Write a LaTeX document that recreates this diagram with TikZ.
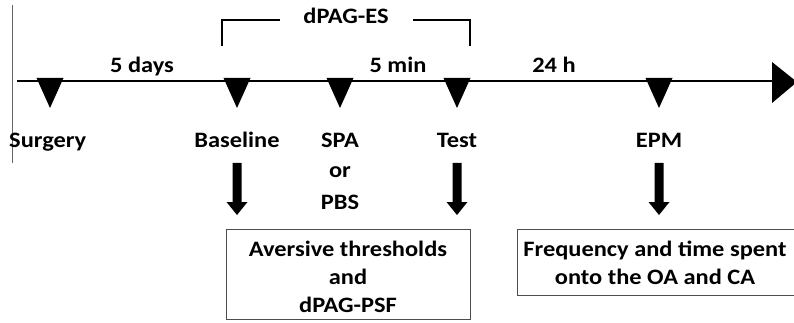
\documentclass[tikz,border=0pt]{standalone}
\usepackage{fontspec}
\setmainfont{Carlito}[FakeStretch=1.11]
\begin{document}
\begin{tikzpicture}[x=1pt,y=-1pt,
  lbl/.style={font=\bfseries\fontsize{22}{22}\selectfont, inner sep=0pt, anchor=base},
  marker/.style={fill=black},
  blockarrow/.style={fill=black},
  infobox/.style={draw=black!70, line width=0.8pt}]
\useasboundingbox (0,0) rectangle (794,323);
% left vertical line
\draw[black!60, line width=0.8pt] (12,5) -- (12,163);
% timeline
\coordinate (tstart) at (17,81);
\coordinate (tend) at (772,81);
\draw[line width=1.8pt] (tstart) -- (tend);
\fill (772,62) -- (797,82) -- (772,103) -- cycle;
% markers
\foreach \n/\x in {surg/50, base/237, spa/340, test/457, epm/659}{
  \coordinate (\n) at (\x,81);
  \fill[marker] (\x-13.5,78) -- (\x+13.5,78) -- (\x,108) -- cycle;
}
% upper labels
\node[lbl] (days) at (142,73) {5 days};
\node[lbl] (min) at (398,73) {5 min};
\node[lbl] (hrs) at (554,73) {24 h};
% bracket
\node[lbl] (es) at (346,24) {dPAG-ES};
\draw[line width=1.1pt] (222,46) -- (222,20) -- (280,20);
\draw[line width=1.1pt] (413,20) -- (470,20) -- (470,46);
% lower labels
\node[lbl, anchor=base west] (surgery) at (9,148) {Surgery};
\node[lbl] (baseline) at (237,148) {Baseline};
\node[lbl] (spalbl) at (340,148) {SPA};
\node[lbl] (orlbl) at (340,178) {or};
\node[lbl] (pbs) at (340,209) {PBS};
\node[lbl] (testlbl) at (457,148) {Test};
\node[lbl] (epmlbl) at (659,148) {EPM};
% block arrows
\foreach \x in {237, 457, 659}{
  \fill[blockarrow] (\x-4.5,163) -- (\x+4.5,163) -- (\x+4.5,202) -- (\x+10.5,202)
    -- (\x,215) -- (\x-10.5,202) -- (\x-4.5,202) -- cycle;
}
% boxes
\draw[infobox] (226,229) rectangle (470,319);
\node[lbl] (b1a) at (348,256) {Aversive thresholds};
\node[lbl] (b1b) at (348,284) {and};
\node[lbl] (b1c) at (348,312) {dPAG-PSF};
\draw[infobox] (517,229) rectangle (800,295);
\node[lbl] (b2a) at (655,256) {Frequency and time spent};
\node[lbl] (b2b) at (655,284) {onto the OA and CA};
\end{tikzpicture}
\end{document}
